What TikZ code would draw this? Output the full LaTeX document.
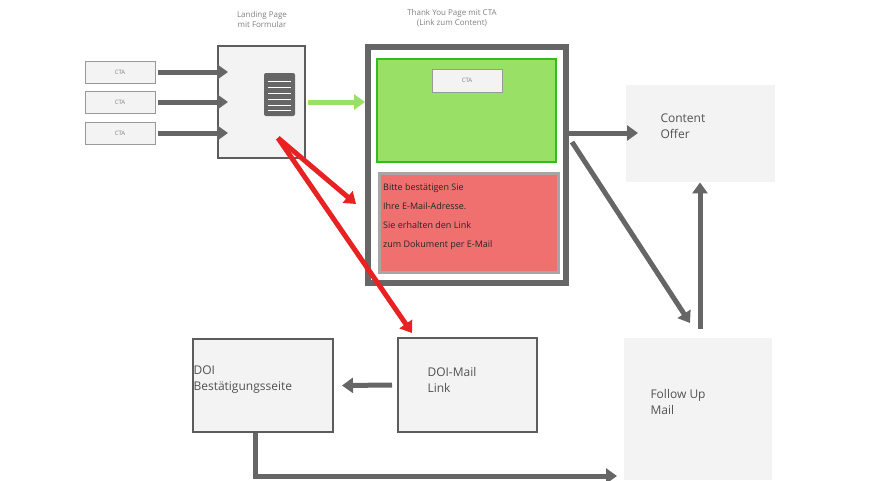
\documentclass[tikz,border=0pt]{standalone}
\usepackage{fontspec}
\setmainfont{Open Sans}
\usetikzlibrary{arrows.meta}
\definecolor{dgray}{HTML}{666666}
\definecolor{bgray}{HTML}{F3F3F3}
\definecolor{lgreen}{HTML}{99E066}
\definecolor{bgreen}{HTML}{33BB22}
\definecolor{lred}{HTML}{F07070}
\definecolor{ared}{HTML}{E82222}
\tikzset{
  ctabox/.style={draw=gray!80,fill=bgray,line width=0.8pt,minimum width=70pt,minimum height=22pt,font=\fontsize{6}{7}\selectfont,text=gray},
  page/.style={draw=dgray!90!black,fill=bgray,line width=2pt,anchor=north west},
  grayarrow/.style={draw=dgray,line width=5pt,-{Triangle[length=11pt,width=15pt]}},
  redarrow/.style={draw=ared,line width=5pt,-{Triangle[length=11pt,width=15pt]}},
  caption/.style={font=\fontsize{8}{10}\selectfont,text=gray,align=center},
  big/.style={font=\fontsize{12}{16}\selectfont,text=dgray!80!black,align=left,anchor=north west}
}
\begin{document}
\begin{tikzpicture}[x=1pt,y=-1pt]
\useasboundingbox (0,0) rectangle (880,480);
% landing page
\node[caption] (lplabel) at (262,19) {Landing Page\\mit Formular};
\draw[page] (218,46) rectangle (305,158);
\coordinate (lpin1) at (228,72);
\coordinate (lpin2) at (228,102);
\coordinate (lpin3) at (228,133);
\node[fill=dgray,rounded corners=2pt,minimum width=31pt,minimum height=43pt] (form) at (279.5,94.5) {};
\foreach \y in {81,87,93,99,105,110}
  \draw[white,line width=1pt] (268,\y) -- (291,\y);
\foreach \y/\i in {72/1,102/2,133/3}{
  \node[ctabox] (cta\i) at (120,\y) {CTA};
  \draw[grayarrow] (cta\i.east) ++(3,0) -- (lpin\i);
}
% thank you page
\node[caption] (tylabel) at (452,18) {Thank You Page mit CTA\\(Link zum Content)};
\draw[draw=dgray,fill=white,line width=6pt] (368,47) rectangle (566,283);
\draw[draw=bgreen,fill=lgreen,line width=2pt] (377,59) rectangle (556,162);
\node[ctabox,minimum width=70pt,minimum height=23pt] (ctatop) at (467,80.5) {CTA};
\node[draw=gray!70,fill=lred,line width=3pt,minimum width=179pt,minimum height=99pt,anchor=north west] (hint) at (378,172) {};
\node[anchor=north west,align=left,font=\fontsize{9}{19.3}\selectfont,text=black!85,inner sep=0pt] (hinttext) at (383,183)
  {Bitte bestätigen Sie\\Ihre E-Mail-Adresse.\\Sie erhalten den Link\\zum Dokument per E-Mail};
\coordinate (tyin) at (365,102);
\coordinate (tyout) at (568,133);
\coordinate (tydiag) at (572,142);
\draw[draw=lgreen,line width=5pt,-{Triangle[length=11pt,width=15pt]}] (308,102) -- (tyin);
% right column
\node[fill=bgray,minimum width=149pt,minimum height=97pt,anchor=north west] (offer) at (626,85) {};
\node[big] at (657,110) {Content\\Offer};
\node[fill=bgray,minimum width=148pt,minimum height=142pt,anchor=north west] (followup) at (624,338) {};
\node[big] at (647,386) {Follow Up\\Mail};
% DOI boxes
\node[draw=dgray!90!black,fill=bgray,line width=2pt,minimum width=139pt,minimum height=94pt,anchor=north west] (doimail) at (397,337) {};
\node[big] at (424,364) {DOI-Mail\\Link};
\node[draw=dgray!90!black,fill=bgray,line width=2pt,minimum width=140pt,minimum height=93pt,anchor=north west] (doiseite) at (192,338) {};
\node[big] at (190,362) {DOI\\Bestätigungsseite};
% connectors
\draw[grayarrow] (tyout) -- (638,133);
\draw[grayarrow] (tydiag) -- (690,323);
\draw[grayarrow] (700,329) -- (offer.south -| 700,0);
\draw[grayarrow] (doimail.west) ++(-5,0) -- ([xshift=8pt]doiseite.east);
\draw[grayarrow] (doiseite.south -| 255,0) -- (255,476) -- (617,476);
\coordinate (formout) at (278,138);
\draw[redarrow] (formout) -- (356,204);
\draw[redarrow] (formout) -- (412,333);
\end{tikzpicture}
\end{document}
